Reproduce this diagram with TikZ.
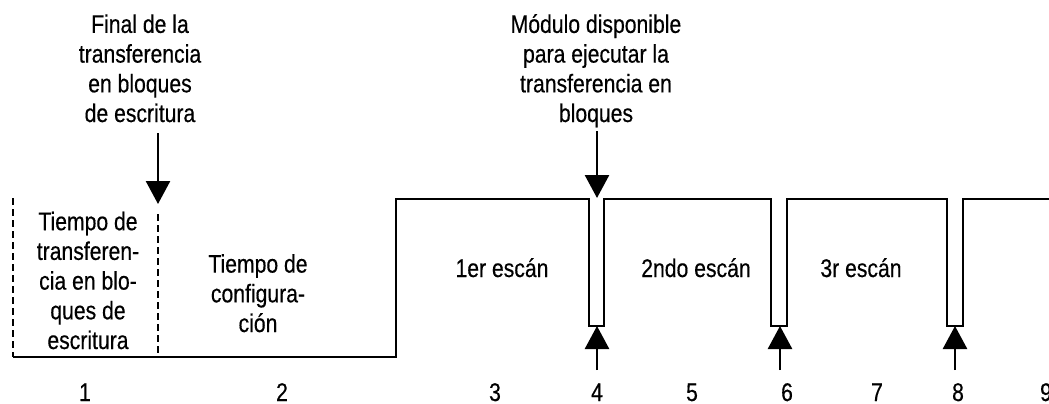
\documentclass[tikz,border=0pt]{standalone}
\usepackage{fontspec}
\setmainfont[FakeStretch=0.83,FakeBold=0.4]{Liberation Sans}
\usetikzlibrary{arrows.meta}
\begin{document}
\begin{tikzpicture}[x=1bp,y=-1bp,line width=2.6bp,
  texto/.style={align=center,inner sep=0pt,anchor=base,font=\fontsize{25.5bp}{29.7bp}\selectfont},
  flecha/.style={-{Triangle[width=24bp,length=23bp]}},
  guion/.style={dash pattern=on 7bp off 4bp}]
\useasboundingbox (0,0) rectangle (1049,403);
% textos (base = ultima linea)
\node[texto] (fin) at (140,122) {Final de la\\transferencia\\en bloques\\de escritura};
\node[texto] (mod) at (596,122) {Módulo disponible\\para ejecutar la\\transferencia en\\bloques};
\node[texto] (tr) at (88,349) {Tiempo de\\transferen-\\cia en blo-\\ques de\\escritura};
\node[texto] (cf) at (258,332) {Tiempo de\\configura-\\ción};
\node[texto] (e1) at (502,277) {1er escán};
\node[texto] (e2) at (696,277) {2ndo escán};
\node[texto] (e3) at (861,277) {3r escán};
% numeros
\node[texto] (n1) at (85,401) {1};
\node[texto] (n2) at (282,401) {2};
\node[texto] (n3) at (495,401) {3};
\node[texto] (n4) at (597,401) {4};
\node[texto] (n5) at (692,401) {5};
\node[texto] (n6) at (787,401) {6};
\node[texto] (n7) at (877,401) {7};
\node[texto] (n8) at (958,401) {8};
\node[texto] (n9) at (1046,401) {9};
% senal
\draw[line join=miter] (13,357) -- (396,357) -- (396,199) -- (589,199) -- (589,326) -- (604,326) -- (604,199)
  -- (771,199) -- (771,326) -- (787,326) -- (787,199) -- (947,199) -- (947,326) -- (963,326) -- (963,199) -- (1052,199);
\draw[guion] (13,198) -- (13,357);
\draw[guion] (158,214) -- (158,357);
% flechas
\coordinate (a1) at (158,133);
\coordinate (b1) at (158,204);
\coordinate (a2) at (597,131);
\coordinate (b2) at (597,198);
\coordinate (a4) at (597,370);
\coordinate (b4) at (597,326);
\coordinate (a6) at (780,370);
\coordinate (b6) at (780,326);
\coordinate (a8) at (955,370);
\coordinate (b8) at (955,326);
\draw[flecha] (a1) -- (b1);
\draw[flecha] (a2) -- (b2);
\draw[flecha] (a4) -- (b4);
\draw[flecha] (a6) -- (b6);
\draw[flecha] (a8) -- (b8);
\end{tikzpicture}
\end{document}
